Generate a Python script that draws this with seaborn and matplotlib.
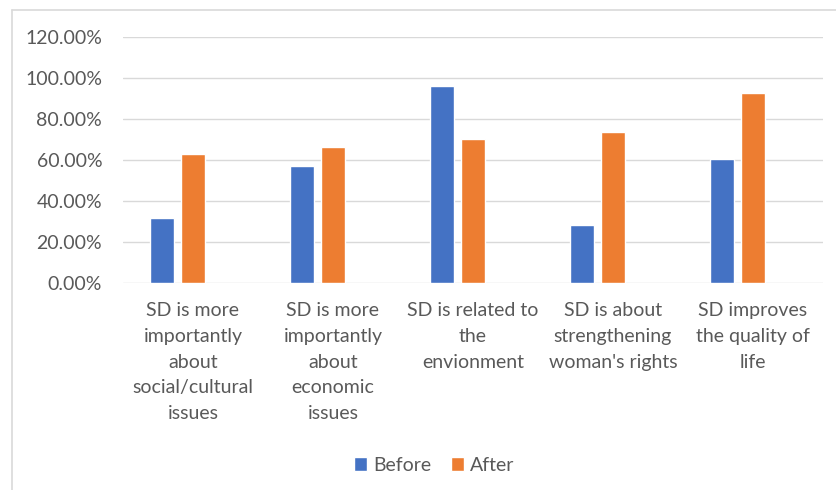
import pandas as pd
import matplotlib.pyplot as plt
import matplotlib.ticker as mticker
from matplotlib.lines import Line2D
from matplotlib.patches import Patch
import seaborn as sns

# chart values
categories = ["SD is more\nimportantly\nabout\nsocial/cultural\nissues",
              "SD is more\nimportantly\nabout\neconomic\nissues",
              "SD is related to\nthe\nenvionment",
              "SD is about\nstrengthening\nwoman's rights",
              "SD improves\nthe quality of\nlife"]
before = [0.319, 0.570, 0.963, 0.285, 0.607]
after = [0.627, 0.664, 0.702, 0.739, 0.925]
series = ["Before", "After"]
colors = ["#4472C4", "#ED7D31"]

data = pd.DataFrame({
    "Category": categories * 2,
    "Series": ["Before"] * len(categories) + ["After"] * len(categories),
    "Value": before + after,
})

sns.set_style("white")
plt.rcParams["font.family"] = ["Lato", "DejaVu Sans"]

fig = plt.figure(figsize=(8.36, 4.9), dpi=100)
ax = fig.add_axes([123 / 836, 1 - 283 / 490, 700 / 836, 246 / 490])

# third empty slot mimics the Excel layout where the pair sits left of centre
sns.barplot(data=data, x="Category", y="Value", hue="Series",
            hue_order=["Before", "After", "_empty"],
            palette={"Before": colors[0], "After": colors[1], "_empty": "white"},
            width=0.664, gap=0.23, saturation=1, ax=ax, legend=False,
            errorbar=None, order=categories)

ax.set_ylim(0, 1.2)
ax.set_xlim(-0.5, len(categories) - 0.5)
ax.yaxis.set_major_locator(mticker.MultipleLocator(0.2))
ax.yaxis.set_major_formatter(mticker.FuncFormatter(lambda v, p: f"{v * 100:.2f}%"))
ax.grid(axis="y", color="#d9d9d9", linewidth=1)
ax.set_axisbelow(True)
for s in ax.spines.values():
    s.set_visible(False)
ax.set_xlabel("")
ax.set_ylabel("")
ax.tick_params(axis="both", length=0, colors="#595959", labelsize=14)
ax.tick_params(axis="x", pad=14)
ax.tick_params(axis="y", pad=15)
for lab in ax.get_xticklabels():
    lab.set_linespacing(1.62)

handles = [Patch(facecolor=c, label=s) for c, s in zip(colors, series)]
leg = fig.legend(handles=handles, loc="center", bbox_to_anchor=(434 / 836, 1 - 465 / 490),
                 ncol=2, frameon=False, fontsize=14, handlelength=0.7, handleheight=0.7,
                 handletextpad=0.3, columnspacing=1.0)
for t in leg.get_texts():
    t.set_color("#595959")

# chart area border (left and top edges visible)
fig.add_artist(Line2D([12 / 836, 12 / 836], [0, 1 - 10.5 / 490], color="#d9d9d9", lw=1.2))
fig.add_artist(Line2D([12 / 836, 1], [1 - 10.5 / 490, 1 - 10.5 / 490], color="#d9d9d9", lw=1.2))

fig.savefig("out.png", dpi=100)
